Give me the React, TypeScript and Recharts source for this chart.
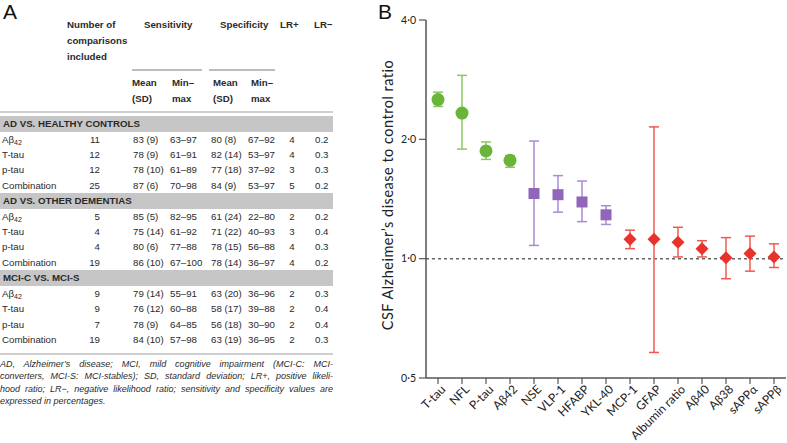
import React from 'react'
import { ComposedChart, Scatter, ErrorBar, XAxis, YAxis, ReferenceLine } from 'recharts'

// ---- panel B data ----
const markers = ['T-tau', 'NFL', 'P-tau', 'Aβ42', 'NSE', 'VLP-1', 'HFABP', 'YKL-40', 'MCP-1', 'GFAP', 'Albumin ratio', 'Aβ40', 'Aβ38', 'sAPPα', 'sAPPβ']
const groups = ['g', 'g', 'g', 'g', 'p', 'p', 'p', 'p', 'r', 'r', 'r', 'r', 'r', 'r', 'r']
const ratios = [2.52, 2.33, 1.87, 1.77, 1.46, 1.45, 1.39, 1.29, 1.12, 1.12, 1.1, 1.06, 1.005, 1.03, 1.01]
const lowerCI = [2.42, 1.89, 1.78, 1.7, 1.08, 1.31, 1.24, 1.22, 1.06, 0.58, 1.01, 1.01, 0.89, 0.93, 0.95]
const upperCI = [2.63, 2.9, 1.97, 1.82, 1.98, 1.62, 1.57, 1.36, 1.18, 2.15, 1.2, 1.11, 1.13, 1.14, 1.09]
const yTicks = [0.5, 1, 2, 4]

// ---- panel A data ----
const comparisons = ['AD VS. HEALTHY CONTROLS', 'AD VS. OTHER DEMENTIAS', 'MCI-C VS. MCI-S']
const biomarkers = ['Aβ42', 'T-tau', 'p-tau', 'Combination']
const nIncluded = [[11, 12, 12, 25], [5, 4, 4, 19], [9, 9, 7, 19]]
const sensMean = [['83 (9)', '78 (9)', '78 (10)', '87 (6)'], ['85 (5)', '75 (14)', '80 (6)', '86 (10)'], ['79 (14)', '76 (12)', '78 (9)', '84 (10)']]
const sensRange = [['63–97', '61–91', '61–89', '70–98'], ['82–95', '61–92', '77–88', '67–100'], ['55–91', '60–88', '64–85', '57–98']]
const specMean = [['80 (8)', '82 (14)', '77 (18)', '84 (9)'], ['61 (24)', '71 (22)', '78 (15)', '78 (14)'], ['63 (20)', '58 (17)', '56 (18)', '63 (19)']]
const specRange = [['67–92', '53–97', '37–92', '53–97'], ['22–80', '40–93', '56–88', '36–97'], ['36–96', '39–88', '30–90', '36–95']]
const lrPos = [[4, 4, 3, 5], [2, 3, 4, 4], [2, 2, 2, 2]]
const lrNeg = [['0.2', '0.3', '0.3', '0.2'], ['0.2', '0.4', '0.3', '0.2'], ['0.3', '0.4', '0.4', '0.3']]
const footnote = [
  'AD, Alzheimer’s disease; MCI, mild cognitive impairment (MCI-C: MCI-',
  'converters, MCI-S: MCI-stables); SD, standard deviation; LR+, positive likeli-',
  'hood ratio; LR−, negative likelihood ratio; sensitivity and specificity values are',
  'expressed in percentages.',
]

const COLORS: Record<string, { mark: string; bar: string }> = {
  g: { mark: '#6ab43a', bar: '#8cc664' },
  p: { mark: '#9165b9', bar: '#a98cd0' },
  r: { mark: '#e8322b', bar: '#ee5a52' },
}

const chartData = markers.map((name, i) => {
  const err = [ratios[i] - lowerCI[i], upperCI[i] - ratios[i]]
  return {
    name,
    group: groups[i],
    ratio: ratios[i],
    errG: groups[i] === 'g' ? err : undefined,
    errP: groups[i] === 'p' ? err : undefined,
    errR: groups[i] === 'r' ? err : undefined,
  }
})

const TABLE_FONT = '"Liberation Sans", Arial, sans-serif'
const CHART_FONT = 'Lato, "Open Sans", sans-serif'

const renderMarker = (props: any) => {
  const { cx, cy, payload } = props
  if (cx == null || cy == null) return null
  const c = COLORS[payload.group].mark
  if (payload.group === 'g') return <circle cx={cx} cy={cy} r={6.5} fill={c} />
  if (payload.group === 'p') return <rect x={cx - 5.5} y={cy - 5.5} width={11} height={11} fill={c} />
  return <polygon points={`${cx},${cy - 6.5} ${cx + 6.5},${cy} ${cx},${cy + 6.5} ${cx - 6.5},${cy}`} fill={c} />
}

const XTick = (props: any) => {
  const { x, y, payload } = props
  const tx = x + 5
  const ty = y + 1
  return (
    <text x={tx} y={ty} transform={`rotate(-45 ${tx} ${ty})`} textAnchor="end" dominantBaseline="central"
      fontSize={12} fontFamily={CHART_FONT} fill="#222">
      {payload.value}
    </text>
  )
}

const YLabel = (props: any) => {
  const { x, y, height } = props.viewBox
  const cx = x + 7
  const cy = y + height / 2 - 4
  return (
    <text x={cx} y={cy} transform={`rotate(-90 ${cx} ${cy})`} textAnchor="middle"
      fontSize={14.5} letterSpacing={0.5} fontFamily={CHART_FONT} fill="#222">
      CSF Alzheimer’s disease to control ratio
    </text>
  )
}

function PanelB() {
  return (
    <ComposedChart width={787} height={443} data={chartData} margin={{ top: 20, right: 1, bottom: 0, left: 386 }}>
      <XAxis
        dataKey="name"
        scale="band"
        interval={0}
        height={65}
        tickSize={6}
        tickMargin={2}
        tick={<XTick />}
        axisLine={{ stroke: '#555', strokeWidth: 1.5 }}
        tickLine={{ stroke: '#555', strokeWidth: 1.2 }}
      />
      <YAxis
        type="number"
        scale="log"
        domain={[0.5, 4]}
        ticks={yTicks}
        allowDataOverflow
        width={40}
        tickSize={7}
        tickMargin={3}
        tickFormatter={(v: number) => v.toFixed(1).replace('.', '·')}
        tick={{ fill: '#222', fontSize: 10.5, fontFamily: CHART_FONT }}
        axisLine={{ stroke: '#555', strokeWidth: 1.5 }}
        tickLine={{ stroke: '#555', strokeWidth: 1.2 }}
        label={<YLabel />}
      />
      <ReferenceLine y={1} stroke="#666" strokeWidth={1.5} strokeDasharray="3 3" />
      <Scatter dataKey="ratio" isAnimationActive={false} shape={renderMarker}>
        <ErrorBar dataKey="errG" direction="y" width={5} stroke={COLORS.g.bar} strokeWidth={1.5} isAnimationActive={false} />
        <ErrorBar dataKey="errP" direction="y" width={5} stroke={COLORS.p.bar} strokeWidth={1.5} isAnimationActive={false} />
        <ErrorBar dataKey="errR" direction="y" width={5} stroke={COLORS.r.bar} strokeWidth={1.5} isAnimationActive={false} />
      </Scatter>
    </ComposedChart>
  )
}

const TCell = ({ x, y, w = 60, align = 'left', bold = false, children }: any) => (
  <div style={{
    position: 'absolute', left: x, top: y - 8, width: w, height: 16, lineHeight: '16px',
    textAlign: align, whiteSpace: 'nowrap', fontWeight: bold ? 700 : 400,
  }}>{children}</div>
)

const markerName = (name: string) =>
  name.startsWith('Aβ') ? <>Aβ<sub style={{ fontSize: 7, verticalAlign: -2 }}>{name.slice(2)}</sub></> : name

function PanelA() {
  const ROW = 15.3
  const BAND = 16
  return (
    <div style={{ position: 'absolute', left: 0, top: 0, width: 340, height: 443, fontFamily: TABLE_FONT, fontSize: 9.7, color: '#2a2a2a' }}>
      <div style={{ position: 'absolute', left: 3, top: 2, fontSize: 21, lineHeight: '20px', color: '#111' }}>A</div>

      <TCell x={67} y={25} w={80} bold>Number of</TCell>
      <TCell x={67} y={41} w={80} bold>comparisons</TCell>
      <TCell x={67} y={57} w={80} bold>included</TCell>
      <TCell x={144} y={25} bold>Sensitivity</TCell>
      <TCell x={220} y={25} bold>Specificity</TCell>
      <TCell x={280} y={25} w={30} bold>LR+</TCell>
      <TCell x={314} y={25} w={30} bold>LR−</TCell>
      <div style={{ position: 'absolute', left: 132, top: 69, width: 70, height: 1.5, background: '#bdbdbd' }} />
      <div style={{ position: 'absolute', left: 209, top: 69, width: 66, height: 1.5, background: '#bdbdbd' }} />
      <TCell x={132} y={83} w={40} bold>Mean</TCell>
      <TCell x={132} y={99} w={40} bold>(SD)</TCell>
      <TCell x={172} y={83} w={40} bold>Min–</TCell>
      <TCell x={172} y={99} w={40} bold>max</TCell>
      <TCell x={213} y={83} w={40} bold>Mean</TCell>
      <TCell x={213} y={99} w={40} bold>(SD)</TCell>
      <TCell x={251} y={83} w={40} bold>Min–</TCell>
      <TCell x={251} y={99} w={40} bold>max</TCell>
      <div style={{ position: 'absolute', left: 0, top: 111, width: 333, height: 1.5, background: '#cfcfcf' }} />

      {comparisons.map((title, s) => {
        const top = 116 + s * (BAND + 4 * ROW)
        return (
          <React.Fragment key={title}>
            <div style={{ position: 'absolute', left: 0, top, width: 333, height: BAND, background: '#c6c6c6' }} />
            <TCell x={3} y={top + BAND / 2} w={250} bold>{title}</TCell>
            {biomarkers.map((b, r) => {
              const y = top + BAND + ROW / 2 + r * ROW
              return (
                <React.Fragment key={b}>
                  <TCell x={2} y={y}>{markerName(b)}</TCell>
                  <TCell x={60} y={y} w={40} align="right">{nIncluded[s][r]}</TCell>
                  <TCell x={133} y={y}>{sensMean[s][r]}</TCell>
                  <TCell x={170} y={y}>{sensRange[s][r]}</TCell>
                  <TCell x={211} y={y}>{specMean[s][r]}</TCell>
                  <TCell x={248} y={y}>{specRange[s][r]}</TCell>
                  <TCell x={282} y={y} w={20} align="center">{lrPos[s][r]}</TCell>
                  <TCell x={315} y={y} w={20}>{lrNeg[s][r]}</TCell>
                </React.Fragment>
              )
            })}
          </React.Fragment>
        )
      })}

      <div style={{ position: 'absolute', left: 0, top: 353, width: 333, height: 1.5, background: '#cfcfcf' }} />
      {footnote.map((line, i) => (
        <div key={i} style={{
          position: 'absolute', left: 0, top: 358 + i * 12.3, width: 333, height: 12.3, lineHeight: '12.3px',
          fontSize: 9, fontStyle: 'italic', whiteSpace: 'nowrap',
          textAlign: 'justify', textAlignLast: i < footnote.length - 1 ? 'justify' : 'left',
        } as any}>{line}</div>
      ))}
    </div>
  )
}

export default function App() {
  return (
    <div style={{ position: 'fixed', left: 0, top: 0, width: 787, height: 443, background: '#fff', overflow: 'hidden' }}>
      <PanelA />
      <div style={{ position: 'absolute', left: 378, top: 2, fontSize: 21, lineHeight: '20px', fontFamily: TABLE_FONT, color: '#111' }}>B</div>
      <div style={{ position: 'absolute', left: 0, top: 0 }}>
        <PanelB />
      </div>
    </div>
  )
}
